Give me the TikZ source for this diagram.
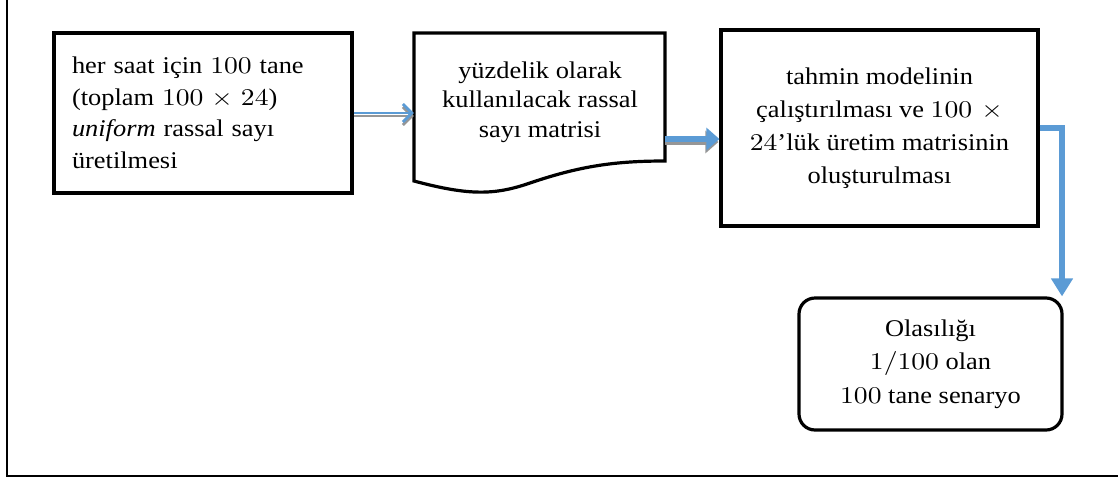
\documentclass[tikz,border=0pt]{standalone}
\usepackage{fontspec}
\setmainfont{Liberation Serif}[FakeStretch=1.1]
\newfontfamily\numfont{lmroman10-regular.otf}[FakeStretch=1.15]
\usetikzlibrary{arrows.meta,calc}
\definecolor{arrblue}{RGB}{91,155,213}
\definecolor{shadowgray}{RGB}{150,150,150}
\tikzset{
  boxstyle/.style={draw=black, line width=3.2pt, inner sep=0pt},
  txt/.style={font=\fontsize{24}{31.5}\selectfont},
  thinarrow/.style={draw=arrblue, line width=2.8pt, -{Straight Barb[length=9pt,width=18pt,line width=2.8pt]}},
  thinshadow/.style={draw=shadowgray, line width=2.8pt, -{Straight Barb[length=9pt,width=18pt,line width=2.8pt]}},
  fatarrow/.style={draw=arrblue, line width=6pt, -{Triangle[length=13pt,width=22pt]}},
  fatshadow/.style={draw=shadowgray, line width=6pt, -{Triangle[length=13pt,width=22pt]}},
  elbowarrow/.style={draw=arrblue, line width=5.5pt, -{Triangle[length=18pt,width=21pt]}},
}
\begin{document}
\begin{tikzpicture}[x=1pt,y=-1pt]
\useasboundingbox (0,0) rectangle (1118,480);
% outer frame
\draw[line width=1.6pt] (7,0) -- (7,476) -- (1118,476);

% box 1
\node[boxstyle, txt, minimum width=298pt, minimum height=160pt, text width=262pt, align=left] (b1) at (203,113)
 {her saat için {\numfont 100} tane\\(toplam {\numfont 100 × 24})\\\textit{uniform} rassal sayı\\üretilmesi};

% box 2 (document shape)
\node[inner sep=0pt, minimum width=251pt, minimum height=160pt] (b2) at (539.5,113) {};
\draw[line width=3.2pt, line join=miter]
  (414,181) -- (414,33) -- (665,33) -- (665,161)
  .. controls (615,161) and (580,166) .. (530,183)
  .. controls (495,195) and (470,196) .. (414,181) -- cycle;
\node[txt, font=\fontsize{24}{29.5}\selectfont, align=center] (t2) at (540,102)
 {yüzdelik olarak\\kullanılacak rassal\\sayı matrisi};

% box 3
\node[boxstyle, txt, minimum width=317pt, minimum height=196pt, align=center, font=\fontsize{24}{33}\selectfont] (b3) at (879.5,128)
 {tahmin modelinin\\çalıştırılması ve {\numfont 100 ×}\\{\numfont 24}’lük üretim matrisinin\\oluşturulması};

% box 4
\node[boxstyle, rounded corners=16pt, minimum width=263pt, minimum height=132pt, align=center, font=\fontsize{24}{33.5}\selectfont] (b4) at (930.5,364)
 {Olasılığı\\{\numfont 1/100} olan\\{\numfont 100} tane senaryo};

% arrows
\coordinate (a1s) at (b1.east);
\coordinate (a1e) at (b1.east -| b2.west);
\draw[thinshadow] ($(a1s)+(0,3)$) -- ($(a1e)+(0,3)$);
\draw[thinarrow] (a1s) -- (a1e);

\coordinate (a2s) at ($(b2.east)+(0,26)$);
\coordinate (a2e) at (a2s -| b3.west);
\draw[fatshadow] ($(a2s)+(0,3)$) -- ($(a2e)+(-1,3)$);
\draw[fatarrow] (a2s) -- (a2e);

\coordinate (a3s) at ($(b3.east)+(0,0)$);
\coordinate (a3c) at (1062,128);
\draw[elbowarrow] (a3s) -- (a3c) -- (a3c |- b4.north);
\end{tikzpicture}
\end{document}
